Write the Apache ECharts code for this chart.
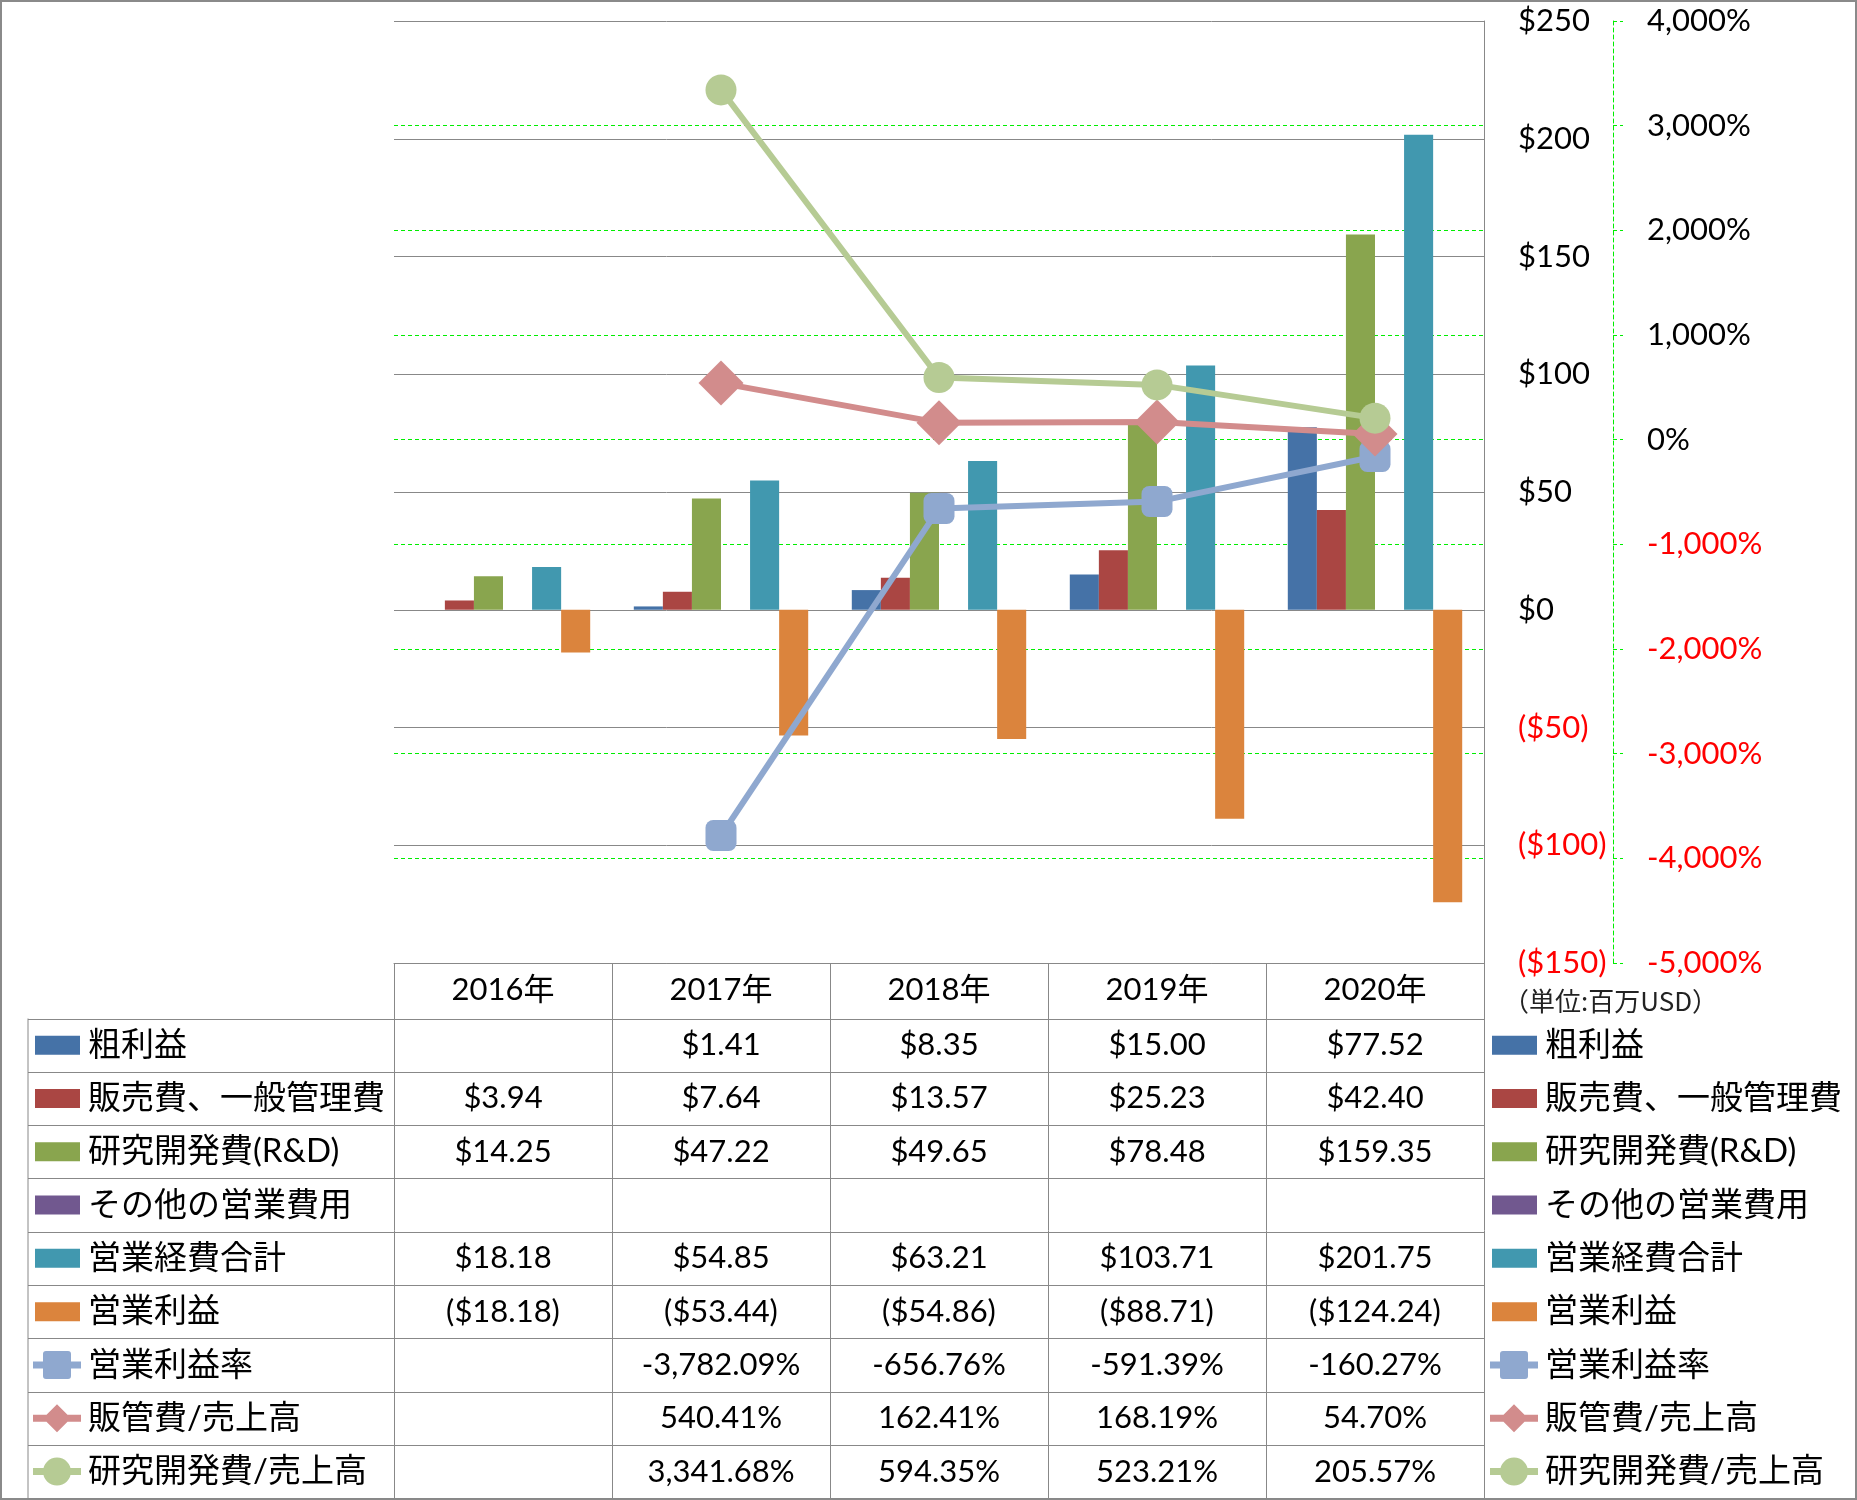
<!DOCTYPE html>
<html>
<head>
<meta charset="utf-8">
<script src="https://cdn.jsdelivr.net/npm/echarts@6/dist/echarts.min.js"></script>
<style>
  html, body { margin: 0; padding: 0; background: #fff; }
  #chart { width: 1857px; height: 1500px; }
</style>
</head>
<body>
<div id="chart"></div>
<script>
// ---- data (百万USD / %) ----
const years = ['2016年', '2017年', '2018年', '2019年', '2020年'];
const grossProfit = [null, 1.41, 8.35, 15.00, 77.52];
const sgaExpense = [3.94, 7.64, 13.57, 25.23, 42.40];
const rdExpense = [14.25, 47.22, 49.65, 78.48, 159.35];
const otherExpense = [null, null, null, null, null];
const totalOpex = [18.18, 54.85, 63.21, 103.71, 201.75];
const opIncome = [-18.18, -53.44, -54.86, -88.71, -124.24];
const opMargin = [null, -3782.09, -656.76, -591.39, -160.27];
const sgaRatio = [null, 540.41, 162.41, 168.19, 54.70];
const rdRatio = [null, 3341.68, 594.35, 523.21, 205.57];

// ---- layout ----
const FONT = 'Lato, "Noto Sans CJK JP", sans-serif';
const PLOT_L = 394, PLOT_R = 1484, PLOT_T = 21, PLOT_B = 963;
const TABLE_L = 28;
const ROW_TOP = 1018.5;
const ROW_H = 53.3;
const LEG_H = 34;
const GREEN = '#00EE00';
const GRID_GRAY = '#888888';

// legend keys, all drawn in a 52x34 box (corner points pin the box)
const BOX = 'M0,0L0,0ZM52,34L52,34Z';
const KEY_LINE = 'M2,13.5L50,13.5L50,20.5L2,20.5Z';
const ICONS = {
  bar: 'path://' + BOX + 'M4,7.5L49,7.5L49,26.5L4,26.5Z',
  roundRect: 'path://' + BOX + KEY_LINE + 'M15,3L37,3Q40,3 40,6L40,28Q40,31 37,31L15,31Q12,31 12,28L12,6Q12,3 15,3Z',
  diamond: 'path://' + BOX + KEY_LINE + 'M26,3L40,17L26,31L12,17Z',
  circle: 'path://' + BOX + KEY_LINE + 'M12,17A14,14 0 1,1 40,17A14,14 0 1,1 12,17Z',
};

const rows = [
  { name: '粗利益', kind: 'bar', data: grossProfit, color: '#4572A7' },
  { name: '販売費、一般管理費', kind: 'bar', data: sgaExpense, color: '#AA4643' },
  { name: '研究開発費(R&D)', kind: 'bar', data: rdExpense, color: '#89A54E' },
  { name: 'その他の営業費用', kind: 'bar', data: otherExpense, color: '#71588F' },
  { name: '営業経費合計', kind: 'bar', data: totalOpex, color: '#4198AF' },
  { name: '営業利益', kind: 'bar', data: opIncome, color: '#DB843D' },
  { name: '営業利益率', kind: 'line', data: opMargin, color: '#8FA8CF', symbol: 'roundRect', size: 31 },
  { name: '販管費/売上高', kind: 'line', data: sgaRatio, color: '#D28C8C', symbol: 'diamond', size: 45 },
  { name: '研究開発費/売上高', kind: 'line', data: rdRatio, color: '#B6CB94', symbol: 'circle', size: 31 },
];

const fmt2 = (v) => v.toLocaleString('en-US', { minimumFractionDigits: 2, maximumFractionDigits: 2 });
const money = (v) => (v == null ? '' : v < 0 ? '($' + fmt2(-v) + ')' : '$' + fmt2(v));
const pct = (v) => (v == null ? '' : fmt2(v) + '%');

function makeLegend(left) {
  return {
    orient: 'vertical',
    left: left,
    top: ROW_TOP + (ROW_H - LEG_H) / 2,
    padding: 0,
    itemGap: ROW_H - LEG_H,
    itemWidth: 52,
    itemHeight: LEG_H,
    selectedMode: false,
    textStyle: { fontSize: 33, color: '#000', fontFamily: FONT, lineHeight: LEG_H },
    data: rows.map((r) => ({ name: r.name, icon: r.kind === 'bar' ? ICONS.bar : ICONS[r.symbol] })),
  };
}

const chart = echarts.init(document.getElementById('chart'), null, { renderer: 'canvas' });

chart.setOption({
  animation: false,
  backgroundColor: '#fff',
  textStyle: { fontFamily: FONT },
  grid: {
    left: PLOT_L,
    right: 1857 - PLOT_R,
    top: PLOT_T,
    bottom: 1500 - PLOT_B,
    outerBoundsMode: 'none',
  },
  legend: [makeLegend(31), makeLegend(1488)],
  xAxis: {
    type: 'category',
    data: years,
    position: 'bottom',
    axisLine: { onZero: false, lineStyle: { color: GRID_GRAY, width: 1 } },
    // ticks run down through the data table as column borders
    axisTick: { show: true, interval: 0, length: 1498 - PLOT_B, lineStyle: { color: GRID_GRAY, width: 1 } },
    axisLabel: { margin: 12, fontSize: 31, color: '#000', fontFamily: FONT, interval: 0 },
    splitLine: { show: false },
  },
  yAxis: [
    {
      type: 'value',
      position: 'right',
      z: 1,
      min: -150,
      max: 250,
      interval: 50,
      axisLine: { show: true, lineStyle: { color: GRID_GRAY, width: 1 } },
      axisTick: { show: false },
      splitLine: { show: true, lineStyle: { color: GRID_GRAY, width: 1 } },
      axisLabel: {
        margin: 34,
        align: 'left',
        fontSize: 31,
        fontFamily: FONT,
        color: (v) => (Number(v) < 0 ? '#FF0000' : '#000000'),
        formatter: (v) => (v < 0 ? '($' + -v + ')' : '$' + v),
      },
    },
    {
      type: 'value',
      position: 'right',
      z: 0,
      offset: 129,
      min: -5000,
      max: 4000,
      interval: 1000,
      axisLine: { show: true, lineStyle: { color: GREEN, width: 1, type: [4, 3] } },
      axisTick: { show: true, length: 10, lineStyle: { color: GREEN, width: 1, type: [4, 3] } },
      splitLine: { show: true, lineStyle: { color: GREEN, width: 1, type: [4, 3] } },
      axisLabel: {
        margin: 34,
        align: 'left',
        fontSize: 31,
        fontFamily: FONT,
        color: (v) => (Number(v) < 0 ? '#FF0000' : '#000000'),
        formatter: (v) => v.toLocaleString('en-US') + '%',
      },
    },
  ],
  series: rows.map((r) =>
    r.kind === 'bar'
      ? {
          name: r.name,
          type: 'bar',
          yAxisIndex: 0,
          data: r.data,
          barGap: '0%',
          barCategoryGap: '20%',
          itemStyle: { color: r.color },
        }
      : {
          name: r.name,
          type: 'line',
          yAxisIndex: 1,
          data: r.data,
          z: 3,
          symbol: r.symbol,
          symbolSize: r.size,
          showAllSymbol: true,
          lineStyle: { width: 6, color: r.color },
          itemStyle: { color: r.color },
        }
  ),
});

// Data table: borders and values, columns taken from the category axis
const graphics = [];
graphics.push({
  type: 'rect',
  shape: { x: 1, y: 1, width: 1855, height: 1498 },
  style: { fill: 'none', stroke: '#8a8a8a', lineWidth: 2 },
  silent: true,
});
graphics.push({
  type: 'line',
  shape: { x1: TABLE_L, y1: ROW_TOP, x2: TABLE_L, y2: ROW_TOP + rows.length * ROW_H },
  style: { stroke: GRID_GRAY, lineWidth: 1 },
  silent: true,
});
for (let k = 0; k <= rows.length; k++) {
  const y = Math.round(ROW_TOP + k * ROW_H) + 0.5;
  graphics.push({
    type: 'line',
    shape: { x1: TABLE_L, y1: y, x2: PLOT_R, y2: y },
    style: { stroke: GRID_GRAY, lineWidth: 1 },
    silent: true,
  });
}
rows.forEach((r, i) => {
  const yc = ROW_TOP + (i + 0.5) * ROW_H;
  r.data.forEach((v, j) => {
    const xc = chart.convertToPixel({ xAxisIndex: 0 }, years[j]);
    graphics.push({
      type: 'text',
      x: xc,
      y: yc,
      silent: true,
      style: {
        text: r.kind === 'bar' ? money(v) : pct(v),
        fill: '#000',
        font: '31px ' + FONT,
        align: 'center',
        verticalAlign: 'middle',
      },
    });
  });
});
graphics.push({
  type: 'text',
  x: 1503,
  y: 1001,
  silent: true,
  style: {
    text: '（単位:百万USD）',
    fill: '#222',
    font: '26px "Noto Sans CJK JP", sans-serif',
    align: 'left',
    verticalAlign: 'middle',
  },
});

chart.setOption({ graphic: graphics });
</script>
</body>
</html>
